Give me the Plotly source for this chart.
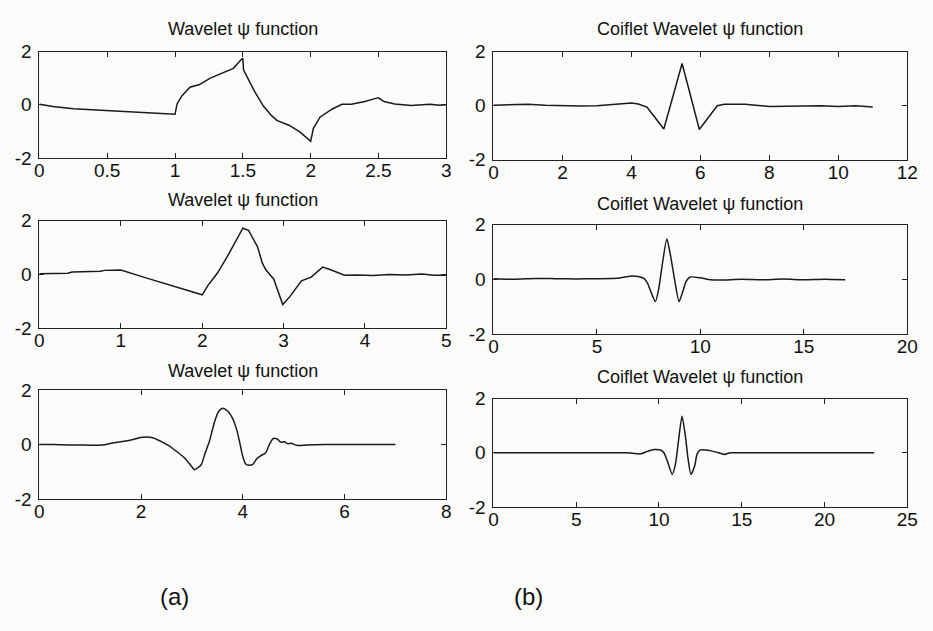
import plotly.graph_objects as go

# ---- data ----
db2_x = [0, 0.1, 0.25, 0.5, 0.75, 0.9, 0.98, 1.0, 1.015, 1.05, 1.11, 1.18, 1.26, 1.33, 1.43, 1.49, 1.5, 1.505, 1.54, 1.585,
         1.65, 1.71, 1.75, 1.84, 1.92, 1.985, 2.0, 2.02, 2.07, 2.16, 2.23, 2.3, 2.4, 2.48, 2.5, 2.54, 2.62, 2.74, 2.8, 2.88, 2.95, 3.0]
db2_y = [0.02, -0.07, -0.15, -0.22, -0.27, -0.31, -0.34, -0.36, 0.03, 0.33, 0.66, 0.76, 1.0, 1.15, 1.37, 1.71, 1.75, 1.31, 0.94, 0.51,
         -0.04, -0.4, -0.59, -0.77, -1.02, -1.32, -1.38, -0.89, -0.46, -0.16, 0.02, 0.02, 0.12, 0.24, 0.26, 0.12, 0.03, -0.03, -0.01, 0.02, -0.02, 0.0]

db3_x = [0, 0.2, 0.35, 0.4, 0.6, 0.75, 0.8, 1.0, 1.3, 1.6, 2.0, 2.07, 2.19, 2.31, 2.41, 2.5, 2.57, 2.68, 2.74, 2.78, 2.88, 2.99,
         3.08, 3.22, 3.34, 3.48, 3.57, 3.65, 3.75, 3.9, 4.1, 4.3, 4.5, 4.7, 4.85, 5.0]
db3_y = [0.02, 0.02, 0.04, 0.09, 0.1, 0.12, 0.15, 0.16, -0.12, -0.39, -0.76, -0.42, 0.06, 0.67, 1.21, 1.72, 1.64, 1.03, 0.42, 0.18, -0.18, -1.12,
         -0.82, -0.24, -0.1, 0.27, 0.18, 0.08, -0.03, -0.02, -0.04, 0.0, -0.02, 0.01, -0.03, -0.03]

db4_x = [0, 0.3, 0.6, 0.9, 1.24, 1.44, 1.6, 1.76, 1.9, 2.02, 2.21, 2.41, 2.55, 2.66, 2.86, 3.0, 3.05, 3.18, 3.26, 3.34, 3.44, 3.52,
         3.6, 3.7, 3.8, 3.87, 3.93, 3.99, 4.05, 4.12, 4.2, 4.28, 4.36, 4.45, 4.52, 4.6, 4.68, 4.75, 4.82, 4.88, 4.95, 5.05, 5.25,
         5.6, 6.0, 6.5, 7.0]
db4_y = [0, 0.0, -0.02, -0.02, -0.02, 0.06, 0.1, 0.15, 0.21, 0.27, 0.26, 0.1, -0.05, -0.2, -0.5, -0.82, -0.92, -0.74, -0.3, 0.1, 0.81, 1.2,
         1.33, 1.23, 0.95, 0.6, 0.15, -0.38, -0.7, -0.76, -0.72, -0.5, -0.4, -0.3, 0.0, 0.22, 0.2, 0.08, 0.1, 0.03, 0.05, -0.03, -0.02,
         0.0, 0.0, 0.0, 0.0]

coif2_x = [0, 0.5, 1.0, 1.5, 2.0, 2.5, 3.0, 3.5, 3.8, 4.0, 4.2, 4.45, 4.6, 4.75, 4.94, 5.1, 5.25, 5.47, 5.6, 5.75, 5.97, 6.1, 6.25,
           6.49, 6.7, 7.0, 7.3, 7.6, 8.0, 8.5, 9.0, 9.5, 10.0, 10.5, 11.0]
coif2_y = [0.02, 0.03, 0.05, 0.02, 0.0, -0.01, 0.0, 0.05, 0.08, 0.1, 0.06, -0.05, -0.3, -0.55, -0.86, -0.13, 0.56, 1.56, 0.93, 0.2, -0.88, -0.66, -0.41,
           0.0, 0.05, 0.06, 0.05, 0.02, -0.03, -0.02, -0.02, 0.0, -0.03, 0.0, -0.05]

coif3_x = [0, 1, 2, 3, 4, 5, 6, 6.4, 6.7, 7.0, 7.27, 7.45, 7.6, 7.83, 8.0, 8.15, 8.38, 8.55, 8.75, 8.97, 9.15, 9.3, 9.5,
           10.0, 10.5, 11, 12, 13, 14, 15, 16, 17]
coif3_y = [0.02, 0.0, 0.03, 0.02, 0.01, 0.02, 0.04, 0.09, 0.12, 0.1, 0.03, -0.15, -0.45, -0.82, -0.3, 0.5, 1.47, 0.9, 0.0, -0.82, -0.45, -0.1, 0.08,
           0.05, -0.02, -0.03, 0.0, -0.02, 0.01, -0.02, 0.0, -0.02]

coif4_x = [0, 2, 4, 6, 8, 8.4, 8.9, 9.3, 9.7, 10.1, 10.3, 10.5, 10.8, 11.0, 11.15, 11.39, 11.6, 11.75, 11.93, 12.15, 12.3, 12.48,
           12.8, 13.2, 13.6, 13.98, 14.3, 15, 17, 19, 21, 23]
coif4_y = [0, 0, 0, 0, 0, -0.02, -0.04, 0.05, 0.12, 0.1, 0.0, -0.3, -0.8, -0.4, 0.3, 1.35, 0.6, -0.2, -0.8, -0.5, -0.05, 0.1,
           0.1, 0.06, 0.0, -0.06, 0.0, 0.0, 0.0, 0.0, 0.0, 0.0]

db2_ticks = [0, 0.5, 1, 1.5, 2, 2.5, 3]
db3_ticks = [0, 1, 2, 3, 4, 5]
db4_ticks = [0, 2, 4, 6, 8]
coif2_ticks = [0, 2, 4, 6, 8, 10, 12]
coif3_ticks = [0, 5, 10, 15, 20]
coif4_ticks = [0, 5, 10, 15, 20, 25]
y_ticks = [-2, 0, 2]

titles_left = "Wavelet ψ function"
titles_right = "Coiflet Wavelet ψ function"
panel_labels = ["(a)", "(b)"]

# ---- layout geometry (pixels) ----
W, H = 933, 631
FONT = "Liberation Sans, Arial, sans-serif"
panels = [
    dict(x=db2_x, y=db2_y, ticks=db2_ticks, px=(35, 449), py=(43, 153), ty=20, title=titles_left, shape="linear"),
    dict(x=db3_x, y=db3_y, ticks=db3_ticks, px=(35, 449), py=(218, 329), ty=197, title=titles_left, shape="linear"),
    dict(x=db4_x, y=db4_y, ticks=db4_ticks, px=(35, 449), py=(393, 506), ty=373, title=titles_left, shape="spline"),
    dict(x=coif2_x, y=coif2_y, ticks=coif2_ticks, px=(497, 918), py=(43, 155), ty=20, title=titles_right, shape="linear"),
    dict(x=coif3_x, y=coif3_y, ticks=coif3_ticks, px=(497, 918), py=(222, 335), ty=201, title=titles_right, shape="spline"),
    dict(x=coif4_x, y=coif4_y, ticks=coif4_ticks, px=(497, 918), py=(402, 514), ty=380, title=titles_right, shape="spline"),
]

fig = go.Figure()
annotations = []
for i, p in enumerate(panels, start=1):
    sfx = "" if i == 1 else str(i)
    fig.add_trace(go.Scatter(
        x=p["x"], y=p["y"], mode="lines", xaxis="x" + sfx, yaxis="y" + sfx,
        line=dict(color="#1a1a1a", width=1.5, shape=p["shape"], smoothing=0.6),
        showlegend=False, hoverinfo="skip"))
    axcommon = dict(showline=True, mirror="allticks", linecolor="#222", linewidth=1,
                    ticks="inside", ticklen=5, tickcolor="#222", showgrid=False, zeroline=False,
                    tickfont=dict(family=FONT, size=19, color="#111"))
    fig.layout["xaxis" + sfx] = dict(
        domain=[p["px"][0] / W, p["px"][1] / W], anchor="y" + sfx,
        range=[p["ticks"][0], p["ticks"][-1]], tickvals=p["ticks"],
        ticktext=[("%g" % t) for t in p["ticks"]], ticklabelstandoff=-5, **axcommon)
    fig.layout["yaxis" + sfx] = dict(
        domain=[1 - p["py"][1] / H, 1 - p["py"][0] / H], anchor="x" + sfx,
        range=[-2, 2], tickvals=y_ticks, ticktext=[("%g" % t) for t in y_ticks],
        ticklabelstandoff=3, **axcommon)
    annotations.append(dict(
        text=p["title"], xref="paper", yref="paper",
        x=(p["px"][0] + p["px"][1]) / 2 / W, y=1 - p["ty"] / H,
        xanchor="center", yanchor="middle", showarrow=False,
        font=dict(family=FONT, size=18, color="#111")))

for lab, xc in zip(panel_labels, [172, 533]):
    annotations.append(dict(
        text=lab, xref="paper", yref="paper", x=xc / W, y=1 - 607 / H,
        xanchor="center", yanchor="middle", showarrow=False,
        font=dict(family=FONT, size=24, color="#111")))

fig.update_layout(
    width=W, height=H, autosize=False,
    margin=dict(l=0, r=0, t=0, b=0),
    paper_bgcolor="#fbfbfa", plot_bgcolor="#fbfbfa",
    annotations=annotations)

fig.write_html("out.html")
